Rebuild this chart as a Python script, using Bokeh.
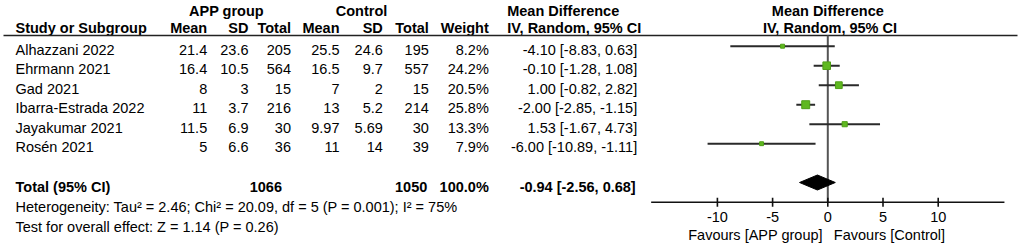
from bokeh.plotting import figure
from bokeh.models import Range1d, ColumnDataSource
from bokeh.core.properties import value
from bokeh.embed import file_html
from bokeh.resources import INLINE

# ---------------- data ----------------
studies = ["Alhazzani 2022", "Ehrmann 2021", "Gad 2021", "Ibarra-Estrada 2022",
           "Jayakumar 2021", "Rosén 2021"]
app_mean = [21.4, 16.4, 8, 11, 11.5, 5]
app_sd = [23.6, 10.5, 3, 3.7, 6.9, 6.6]
app_n = [205, 564, 15, 216, 30, 36]
ctrl_mean = [25.5, 16.5, 7, 13, 9.97, 11]
ctrl_sd = [24.6, 9.7, 2, 5.2, 5.69, 14]
ctrl_n = [195, 557, 15, 214, 30, 39]
weight = [8.2, 24.2, 20.5, 25.8, 13.3, 7.9]
md = [-4.10, -0.10, 1.00, -2.00, 1.53, -6.00]
ci_lo = [-8.83, -1.28, -0.82, -2.85, -1.67, -10.89]
ci_hi = [0.63, 1.08, 2.82, -1.15, 4.73, -1.11]

total_app_n = 1066
total_ctrl_n = 1050
total_weight = 100.0
total_md = -0.94
total_lo = -2.56
total_hi = 0.68

heterogeneity = "Heterogeneity: Tau\u00b2 = 2.46; Chi\u00b2 = 20.09, df = 5 (P = 0.001); I\u00b2 = 75%"
overall = "Test for overall effect: Z = 1.14 (P = 0.26)"

axis_ticks = [-10, -5, 0, 5, 10]
axis_limits = [-16, 16]
favours_left = "Favours [APP group]"
favours_right = "Favours [Control]"

# ---------------- layout ----------------
W, H = 1021, 246
FONT = value("Liberation Sans")
FS = "14.5px"
TY = -4.7   # correction of rendered text baseline

zero_px = 827.3          # pixel position of MD = 0
px_per_unit = 11.04
md_range = Range1d(-zero_px / px_per_unit, (W - zero_px) / px_per_unit)

p = figure(width=W, height=H, output_backend="svg", toolbar_location=None,
           x_range=Range1d(0, W), y_range=Range1d(H, 0),
           min_border=0, x_axis_location=None, y_axis_location=None)
p.extra_x_ranges = {"md": md_range}
p.grid.visible = False
p.outline_line_color = None
p.background_fill_color = "white"
p.border_fill_color = "white"

row0 = 53.7
pitch = 19.5
n = len(studies)
row_base = [row0 + i * pitch for i in range(n)]
total_base = 190.8
het_base = 211.2
test_base = 230.9
hdr_base = 32.5
super_base = 15.5
underline_y = 35.0
axis_y = 201.7


def txt(x, y, t, align="left", bold=False, rng=None):
    kw = {}
    if rng:
        kw["x_range_name"] = rng
    p.text(x=[x], y=[y + TY], text=[t], text_align=align, text_baseline="alphabetic",
           text_font=FONT, text_font_size=FS,
           text_font_style="bold" if bold else "normal", text_color="black", **kw)


# column right edges
x_left = 15
cols = {"am": 206.7, "asd": 248, "an": 290.5, "cm": 339, "csd": 382.3, "cn": 428.3,
        "w": 488.3, "ci": 636.7}
md_hdr_x = 506.7

# headers
txt(226, super_base, "APP group", "center", True)
txt(361, super_base, "Control", "center", True)
txt(md_hdr_x, super_base, "Mean Difference", "left", True)
txt(0, super_base, "Mean Difference", "center", True, "md")
txt(x_left, hdr_base, "Study or Subgroup", "left", True)
for key, lab in [("am", "Mean"), ("asd", "SD"), ("an", "Total"), ("cm", "Mean"),
                 ("csd", "SD"), ("cn", "Total"), ("w", "Weight")]:
    txt(cols[key], hdr_base, lab, "right", True)
txt(md_hdr_x, hdr_base, "IV, Random, 95% CI", "left", True)
txt(0.2, hdr_base, "IV, Random, 95% CI", "center", True, "md")
p.line(x=[3, 1017], y=[underline_y, underline_y], line_color="#222222", line_width=1.3)

# study rows
fmt = lambda v: f"{v:g}"
src = ColumnDataSource(dict(
    study=studies, y=[b + TY for b in row_base],
    am=[fmt(v) for v in app_mean], asd=[fmt(v) for v in app_sd], an=[str(v) for v in app_n],
    cm=[fmt(v) for v in ctrl_mean], csd=[fmt(v) for v in ctrl_sd], cn=[str(v) for v in ctrl_n],
    w=[f"{v:.1f}%" for v in weight],
    ci=[f"{m:.2f} [{lo:.2f}, {hi:.2f}]" for m, lo, hi in zip(md, ci_lo, ci_hi)],
))
p.text(x=x_left, y="y", text="study", source=src, text_align="left", text_baseline="alphabetic",
       text_font=FONT, text_font_size=FS, text_color="black")
for key in ["am", "asd", "an", "cm", "csd", "cn", "w", "ci"]:
    p.text(x=cols[key], y="y", text=key, source=src, text_align="right",
           text_baseline="alphabetic", text_font=FONT, text_font_size=FS, text_color="black")

# totals
txt(x_left, total_base, "Total (95% CI)", "left", True)
txt(cols["an"] - 9, total_base, str(total_app_n), "right", True)
txt(cols["cn"] - 1.5, total_base, str(total_ctrl_n), "right", True)
txt(cols["w"], total_base, f"{total_weight:.1f}%", "right", True)
txt(cols["ci"] - 1.5, total_base, f"{total_md:.2f} [{total_lo:.2f}, {total_hi:.2f}]", "right", True)
txt(x_left, het_base, heterogeneity)
txt(x_left, test_base, overall)

# ---------------- forest plot ----------------
ci_y = [b - 8.0 for b in row_base]
# zero line
p.line(x=[0, 0], y=[underline_y, axis_y], x_range_name="md", line_color="#555555", line_width=2)
# CI lines
p.segment(x0=ci_lo, x1=ci_hi, y0=ci_y, y1=ci_y, x_range_name="md",
          line_color="#2a2a2a", line_width=2)
# squares (size grows with weight)
sizes = [2.1 + 0.227 * w for w in weight]
p.scatter(x=md, y=ci_y, size=sizes, marker="square", x_range_name="md",
          fill_color="#5fb820", line_color="#4f9e17", line_width=1)
# diamond
dy = 182.0
half_h = 7.5
p.patch(x=[total_lo, total_md, total_hi, total_md], y=[dy, dy - half_h, dy, dy + half_h],
        x_range_name="md", fill_color="black", line_color="black", line_width=1)

# axis
p.line(x=axis_limits, y=[axis_y, axis_y], x_range_name="md", line_color="#111111", line_width=1.6)
p.segment(x0=axis_ticks, x1=axis_ticks, y0=[axis_y - 4.5] * len(axis_ticks),
          y1=[axis_y + 4.5] * len(axis_ticks), x_range_name="md", line_color="#111111", line_width=1.6)
p.text(x=axis_ticks, y=[axis_y + 19.8 + TY] * len(axis_ticks), text=[str(t) for t in axis_ticks],
       x_range_name="md", text_align="center", text_baseline="alphabetic",
       text_font=FONT, text_font_size=FS, text_color="black")
txt(-0.45, 239.5, favours_left, "right", False, "md")
txt(0.55, 239.5, favours_right, "left", False, "md")

open("out.html", "w").write(file_html(p, INLINE))
